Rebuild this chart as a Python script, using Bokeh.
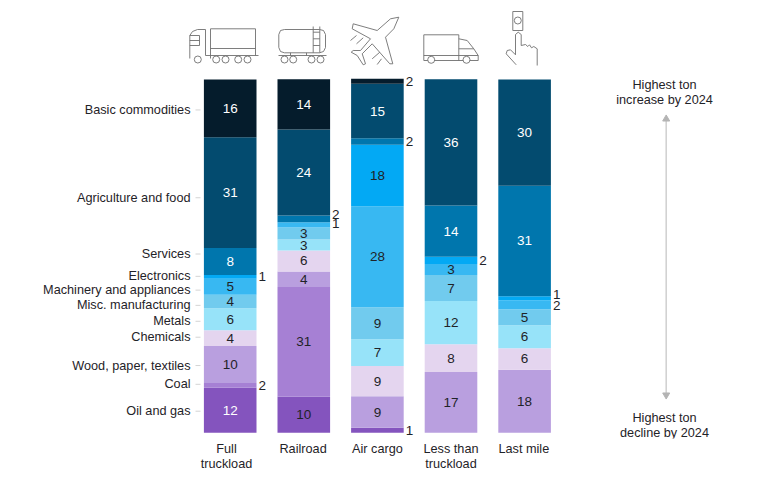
import numpy as np
from bokeh.core.properties import value
from bokeh.embed import file_html
from bokeh.resources import INLINE
from bokeh.plotting import figure
from bokeh.models import ColumnDataSource, FixedTicker, Range1d

FONT = value("Liberation Sans")
DARK = "#1f2328"

modes = ["Full\ntruckload", "Railroad", "Air cargo", "Less than\ntruckload", "Last mile"]

# series, bottom to top of each bar (share of tons, %)
oil = [12.7, 10.2, 1.4, 0, 0]
coal = [1.4, 31.0, 0, 0, 0]
wood = [10.4, 4.4, 8.9, 17.2, 17.8]
chemicals = [4.5, 5.9, 8.6, 7.8, 6.1]
metals = [6.2, 3.1, 7.5, 12.2, 6.5]
misc = [3.8, 3.4, 9.1, 7.4, 4.5]
machinery = [4.5, 1.5, 28.5, 3.1, 2.5]
electronics = [1.1, 0, 17.4, 2.0, 1.2]
services = [7.6, 1.9, 1.8, 14.5, 31.2]
agriculture = [31.3, 24.3, 15.4, 35.7, 30.0]
basic = [16.3, 14.2, 1.4, 0, 0]

# printed numbers
lab_oil = ["12", "10", "1", "", ""]
lab_coal = ["2", "31", "", "", ""]
lab_wood = ["10", "4", "9", "17", "18"]
lab_chemicals = ["4", "6", "9", "8", "6"]
lab_metals = ["6", "3", "7", "12", "6"]
lab_misc = ["4", "3", "9", "7", "5"]
lab_machinery = ["5", "1", "28", "3", "2"]
lab_electronics = ["1", "", "18", "2", "1"]
lab_services = ["8", "2", "2", "14", "31"]
lab_agriculture = ["31", "24", "15", "36", "30"]
lab_basic = ["16", "14", "2", "", ""]

series_names = ["Oil and gas", "Coal", "Wood, paper, textiles", "Chemicals", "Metals",
                "Misc. manufacturing", "Machinery and appliances", "Electronics",
                "Services", "Agriculture and food", "Basic commodities"]
series_values = [oil, coal, wood, chemicals, metals, misc, machinery, electronics,
                 services, agriculture, basic]
series_labels = [lab_oil, lab_coal, lab_wood, lab_chemicals, lab_metals, lab_misc,
                 lab_machinery, lab_electronics, lab_services, lab_agriculture, lab_basic]
series_colors = ["#8454BE", "#A680D4", "#B99FDF", "#E4D5EF", "#97E3F9", "#71CBEE",
                 "#38B8F2", "#03A9F4", "#0076AD", "#034B6F", "#051C2C"]
# where the category names sit on the value scale
name_positions = [6.1, 13.7, 19.0, 27.0, 31.5, 36.0, 40.3, 44.2, 50.5, 66.4, 91.2]

# layout, in page pixels
WIDTH, HEIGHT = 767, 480
F_BOTTOM = 438.0
PITCH, C0 = 73.6, 229.7
UNIT, BASE = 3.54, 432.3

pos = list(range(len(modes)))
p = figure(width=WIDTH, height=HEIGHT, output_backend="svg", toolbar_location=None,
           x_range=Range1d((0 - C0) / PITCH, (WIDTH - C0) / PITCH),
           y_range=Range1d((BASE - F_BOTTOM) / UNIT, BASE / UNIT),
           min_border_left=0, min_border_right=0, min_border_top=0,
           min_border_bottom=int(HEIGHT - F_BOTTOM))
p.outline_line_color = None
p.grid.visible = False
p.background_fill_color = "white"
p.yaxis.visible = False
p.extra_x_ranges["px"] = Range1d(0, WIDTH)
p.extra_y_ranges["px"] = Range1d(F_BOTTOM, 0)

data = {"pos": pos}
for n, v in zip(series_names, series_values):
    data[n] = v
p.vbar_stack(series_names, x="pos", width=52.6 / PITCH, fill_color=series_colors,
             line_color=None, source=ColumnDataSource(data))

# value labels
xs, ys, texts, cols, offx, offy, aligns = [], [], [], [], [], [], []
nudges = {("Services", 1): -4.5, ("Machinery and appliances", 1): -1,
          ("Electronics", 4): -4, ("Machinery and appliances", 4): 1}
white_series = {"Services", "Agriculture and food", "Basic commodities"}
cum = np.zeros(len(modes))
for name, vals, labs in zip(series_names, series_values, series_labels):
    for i, (v, t) in enumerate(zip(vals, labs)):
        if t:
            outside = v < 2.7
            xs.append(i + (26.3 / PITCH if outside else 0))
            ys.append(cum[i] + v / 2)
            texts.append(t)
            offx.append(2 if outside else 0)
            offy.append(nudges.get((name, i), 0))
            aligns.append("left" if outside else "center")
            white = name in white_series or (name == "Oil and gas" and i == 0)
            cols.append("white" if white and not outside else DARK)
    cum += np.array(vals)
p.text(x="x", y="y", text="t", text_color="c", x_offset="ox", y_offset="oy", text_align="a",
       text_baseline="middle", text_font=FONT, text_font_size="13.5px",
       source=ColumnDataSource(dict(x=xs, y=ys, t=texts, c=cols, ox=offx, oy=offy, a=aligns)))

# category names with their short ticks
p.text(x=[190] * len(series_names), y=name_positions, text=series_names, text_align="right",
       text_baseline="middle", text_font=FONT, text_font_size="12.7px", text_color=DARK,
       x_range_name="px")
p.segment(x0=[195] * len(series_names), y0=name_positions, x1=[200] * len(series_names),
          y1=name_positions, line_color="#d4d4d4", line_width=1, x_range_name="px")

xa = p.xaxis[0]
mode_label_pos = [-0.05, 0.99, 2.0, 3.0, 3.99]
xa.ticker = FixedTicker(ticks=mode_label_pos)
xa.major_label_overrides = {k: n for k, n in zip(mode_label_pos, modes)}
xa.axis_line_color = None
xa.major_tick_line_color = None
xa.minor_tick_line_color = None
xa.major_tick_out = 0
xa.major_tick_in = 0
xa.major_label_text_font = "Liberation Sans"
xa.major_label_text_font_size = "12.7px"
xa.major_label_text_color = DARK
xa.major_label_standoff = 3
xa.major_label_text_line_height = 1.1

PX = dict(x_range_name="px", y_range_name="px")

# right-hand scale
p.text(x=[664, 664, 664, 664], y=[84, 99, 417, 432],
       text=["Highest ton", "increase by 2024", "Highest ton", "decline by 2024"],
       text_align="center", text_baseline="middle", text_font=FONT, text_font_size="12.7px",
       text_color=DARK, **PX)
p.segment(x0=[665.7], y0=[120], x1=[665.7], y1=[393], line_color="#d2d2d2", line_width=1.6, **PX)
p.scatter(x=[665.7], y=[118.5], marker="triangle", size=7, color="#b4b4b4", **PX)
p.scatter(x=[665.7], y=[394.5], marker="inverted_triangle", size=7, color="#b4b4b4", **PX)

# pictograms
ICON = "#6f6f6f"
icon_lines = [
    # full truck
    [(210, 58), (210, 28.3), (255, 28.3), (255, 55)],
    [(210, 48), (255, 48)], [(205, 55), (258, 55)],
    [(189.3, 58), (189.3, 35), (192, 31), (197, 29), (205, 29), (205, 55)],
    [(189.3, 35), (199, 35), (199, 45), (189.3, 45)], [(189.3, 40), (199, 40)],
    # tank car
    [(284, 29), (319, 29), (323, 30), (325, 34), (325, 47), (323, 51), (319, 52.3), (284, 52.3),
     (280, 51), (278.3, 47), (278.3, 34), (280, 30), (284, 29)],
    [(312.7, 26), (312.7, 52.3)], [(319.3, 26), (319.3, 52.3)],
    [(312.7, 31.7), (319.3, 31.7)], [(312.7, 38.3), (319.3, 38.3)],
    [(312.7, 45), (319.3, 45)], [(278, 55), (326, 55)],
    [(290, 52.3), (290, 55)], [(306, 52.3), (306, 55)],
    # plane
    [(398.3, 16.7), (393.3, 28.3), (385, 36.7), (392.3, 63.3), (389.3, 63.3), (371.7, 43.3),
     (361.7, 53.3), (365, 63.3), (362.7, 64.3), (356.7, 55), (350.7, 51.7), (352.7, 50),
     (360, 50), (370, 38.3), (351.7, 28.3), (352.7, 23.3), (376.7, 30), (390, 18.3), (398.3, 16.7)],
    [(350, 40), (356, 35)], [(356, 43.3), (362.7, 37.3)],
    [(371.7, 58.3), (379.3, 51.7)], [(376.7, 64), (381, 58.3)],
    # delivery truck
    [(423.3, 60), (423.3, 34.3), (458.3, 34.3), (458.3, 60)],
    [(458.3, 38.3), (466.7, 40), (473.3, 48.3), (477.7, 55), (477.7, 60), (423.3, 60)],
    [(458.3, 48.3), (473.3, 48.3)], [(423.3, 55), (477.7, 55)],
    # hand and phone
    [(512.3, 11), (522.3, 11), (522.3, 30), (512.3, 30), (512.3, 11)],
    [(515.7, 64.3), (505.7, 53.3), (506.7, 50), (510, 49.3), (515, 54.3), (515, 34), (517.7, 31.7),
     (520.7, 34), (520.7, 45), (525, 44), (527.3, 46), (529, 44.3), (531, 47.3), (533.3, 46),
     (536.7, 48.3), (536.7, 65)],
]
p.multi_line(xs=[[a for a, _ in l] for l in icon_lines], ys=[[b for _, b in l] for l in icon_lines],
             line_color=ICON, line_width=0.9, **PX)
wheel_x = [197.3, 215.7, 225, 237.7, 247, 284, 292.7, 311, 320, 430.7, 466, 517.3]
wheel_y = [59, 59, 59, 59, 59, 59, 59, 59, 59, 59.3, 59.3, 20]
p.scatter(x=wheel_x, y=wheel_y, marker="circle", size=7, fill_color="white", line_color=ICON,
          line_width=0.9, **PX)

open("out.html", "w").write(file_html(p, INLINE))
